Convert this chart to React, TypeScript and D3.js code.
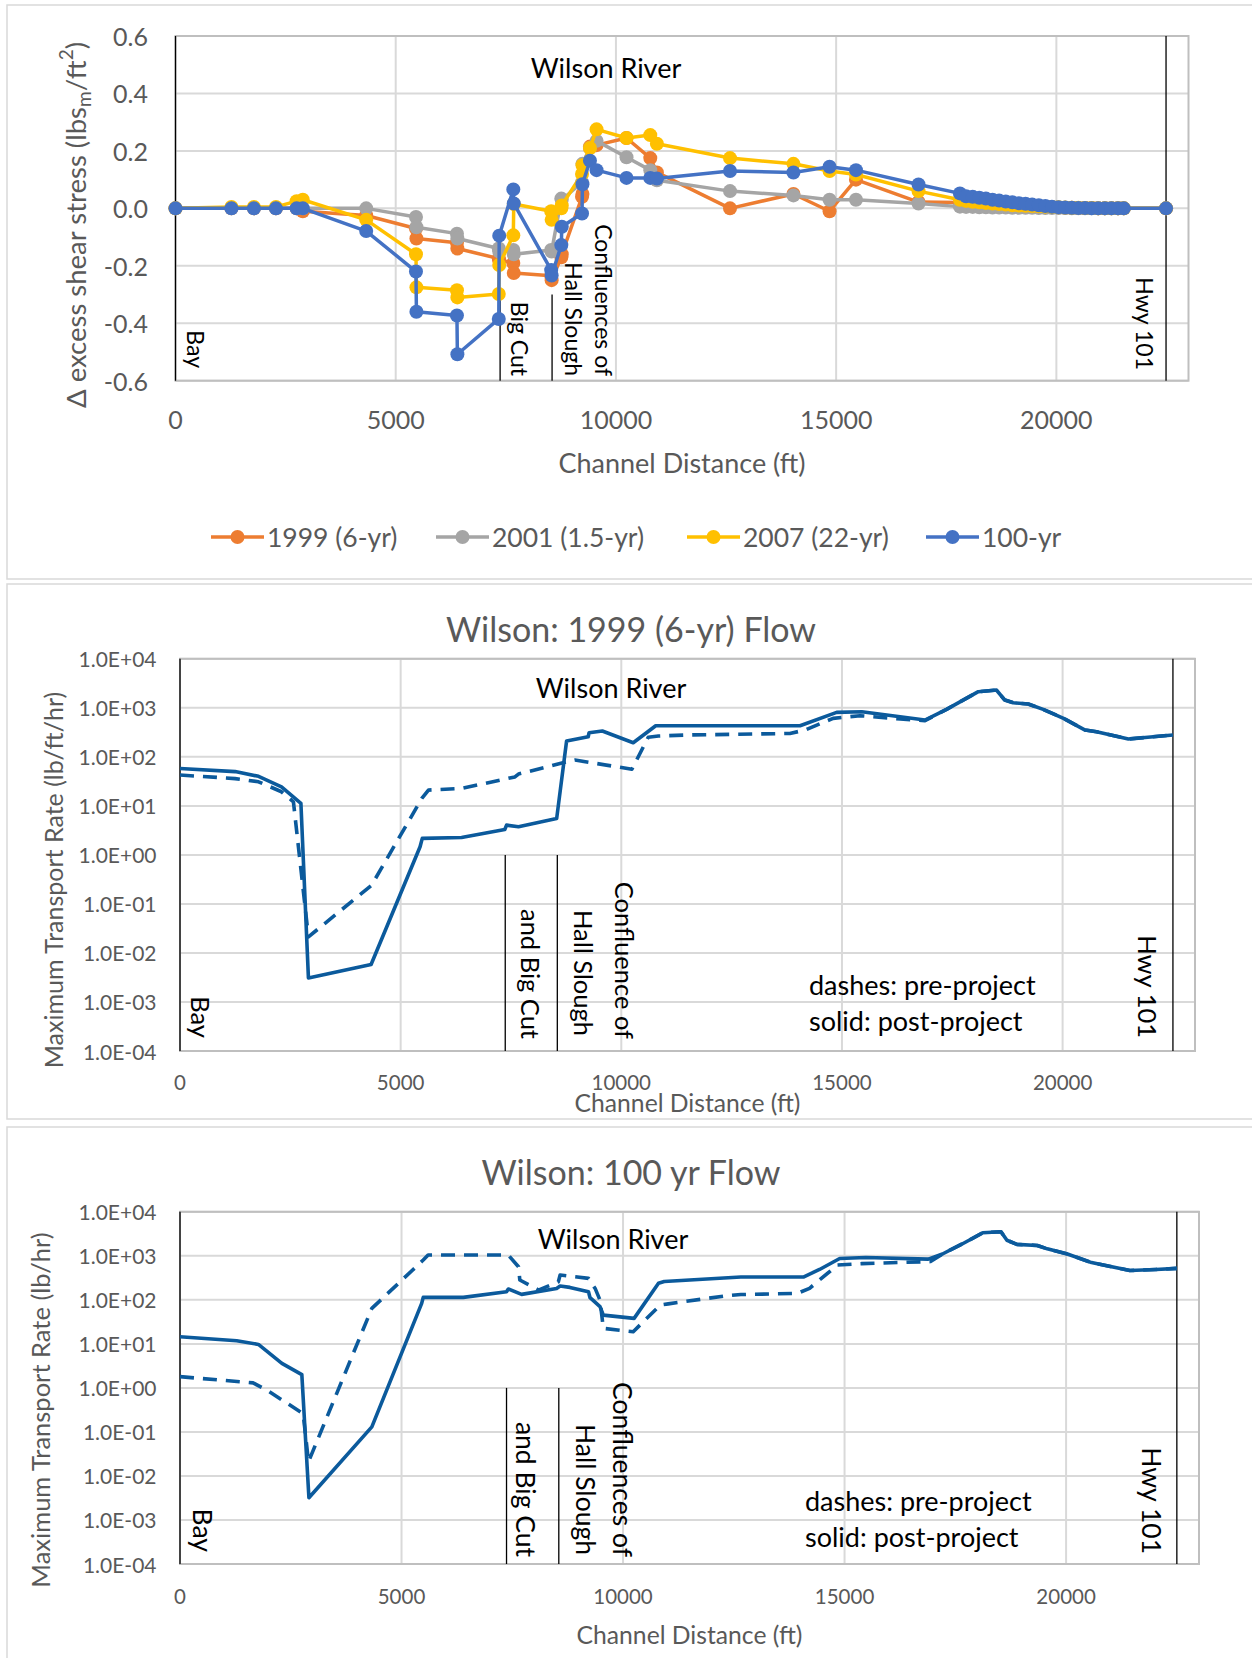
import React from "react";
import * as d3 from "d3";

const FONT = "Lato, 'DejaVu Sans', sans-serif";
const GRID = "#d9d9d9";
const FRAME = "#d9d9d9";
const PLOT_BORDER = "#bfbfbf";
const AXIS_TEXT = "#595959";
const RATE_COLOR = "#0b5a9c";

// ---------- Δ excess shear stress along the channel ----------
const stations = [
  0, 1270, 1780, 2280, 2750, 2890, 4330, 5460, 5470, 6390,
  6400, 7340, 7350, 7670, 7680, 8530, 8540, 8760, 8770, 9230,
  9240, 9410, 9560, 10240, 10780, 10930, 12590, 14030, 14850, 15450,
  16870, 17810, 17950, 18100, 18250, 18400, 18550, 18700, 18850, 19000,
  19150, 19300, 19450, 19600, 19750, 19900, 20050, 20200, 20350, 20500,
  20650, 20800, 20950, 21100, 21250, 21400, 21530, 22490,
];
const shear1999 = [
  0, 0, 0, 0, 0, -0.01, -0.025, -0.07, -0.105, -0.12,
  -0.14, -0.175, -0.18, -0.19, -0.225, -0.235, -0.25, -0.17, -0.16, 0.04,
  0.05, 0.215, 0.22, 0.245, 0.175, 0.125, 0.0, 0.05, -0.01, 0.1,
  0.022, 0.02, 0.018, 0.016, 0.015, 0.013, 0.012, 0.011, 0.01, 0.009,
  0.008, 0.007, 0.006, 0.005, 0.004, 0.004, 0.003, 0.002, 0.002, 0.001,
  0.001, 0.001, 0, 0, 0, 0, 0, 0,
];
const shear2001 = [
  0, 0, 0, 0, 0, 0, 0, -0.03, -0.066, -0.088,
  -0.105, -0.14, -0.15, -0.145, -0.16, -0.145, -0.15, 0.034, 0.03, 0.09,
  0.155, 0.21, 0.235, 0.178, 0.133, 0.098, 0.06, 0.045, 0.03, 0.03,
  0.017, 0.006, 0.005, 0.005, 0.004, 0.004, 0.003, 0.003, 0.003, 0.002,
  0.002, 0.002, 0.002, 0.001, 0.001, 0.001, 0.001, 0.001, 0, 0,
  0, 0, 0, 0, 0, 0, 0, 0,
];
const shear2007 = [
  0, 0.005, 0.005, 0.005, 0.025, 0.03, -0.04, -0.16, -0.275, -0.285,
  -0.31, -0.298, -0.197, -0.094, 0.015, -0.01, -0.04, 0.0, 0.01, 0.12,
  0.15, 0.21, 0.275, 0.245, 0.255, 0.225, 0.175, 0.155, 0.13, 0.118,
  0.06, 0.03, 0.026, 0.023, 0.021, 0.019, 0.017, 0.015, 0.013, 0.011,
  0.01, 0.009, 0.008, 0.007, 0.006, 0.005, 0.004, 0.003, 0.002, 0.002,
  0.001, 0.001, 0, 0, 0, 0, 0, 0,
];
const shear100yr = [
  0, 0, 0, 0, 0, 0, -0.079, -0.22, -0.36, -0.373,
  -0.508, -0.385, -0.095, 0.066, 0.017, -0.215, -0.234, -0.128, -0.064, -0.018,
  0.084, 0.166, 0.133, 0.106, 0.106, 0.104, 0.13, 0.125, 0.145, 0.133,
  0.083, 0.052, 0.042, 0.04, 0.037, 0.034, 0.03, 0.027, 0.024, 0.021,
  0.018, 0.016, 0.013, 0.011, 0.008, 0.006, 0.004, 0.003, 0.002, 0.001,
  0.001, 0.0005, 0, 0, 0, 0, 0, 0,
];
const shearNames = ["1999 (6-yr)", "2001 (1.5-yr)", "2007 (22-yr)", "100-yr"];
const shearColors = ["#ED7D31", "#A5A5A5", "#FFC000", "#4472C4"];
const shearValues = [shear1999, shear2001, shear2007, shear100yr];

// ---------- Maximum transport rate, 1999 (6-yr) flow ----------
const tail1999Dist = [17370, 18090, 18500, 18690, 18880, 19220, 19560, 20020, 20510, 20770, 21490, 22500];
const tail1999Rate = [930, 2134, 2308, 1442, 1273, 1195, 930, 610, 352, 326, 231, 279];
const post1999Dist = [
  0, 1250, 1780, 2300, 2740, 2910, 4330, 5440, 5490, 6380,
  7360, 7400, 7670, 8535, 8760, 9250, 9270, 9570, 10270, 10780,
  14050, 14880, 15450, 16880,
];
const post1999Rate = [
  58, 50, 40, 24.5, 11.2, 0.0031, 0.0058, 1.47, 2.17, 2.27,
  3.3, 4.05, 3.75, 5.5, 210, 257, 310, 336, 194, 432,
  432, 807, 834, 564,
];
const pre1999Dist = [
  0, 1250, 1780, 2300, 2570, 2910, 4340, 5480, 5630, 6380,
  7590, 7670, 8760, 8950, 10240, 10610, 10840, 11480, 13820, 14160,
  14430, 14800, 15410, 16320, 16880,
];
const pre1999Rate = [
  42.6, 36, 31, 19.4, 12.1, 0.0213, 0.24, 14.2, 21, 22.7,
  39, 44.6, 79, 86, 56, 251, 266, 279, 300, 352,
  445, 610, 691, 591, 546,
];

// ---------- Maximum transport rate, 100 yr flow ----------
const tail100Dist = [17210, 17665, 18120, 18530, 18665, 18890, 19350, 19575, 20030, 20575, 20760, 21440, 22030, 22500];
const tail100Rate = [1099, 1883, 3347, 3530, 2256, 1820, 1722, 1439, 1099, 702, 642, 464, 490, 518];
const post100Dist = [
  0, 1280, 1770, 2300, 2750, 2910, 4330, 5455, 5490, 6395,
  7370, 7410, 7710, 8500, 8580, 8800, 9220, 9255, 9480, 9555,
  10250, 10800, 10930, 12660, 14070, 14435, 14890, 15480, 16890,
];
const post100Rate = [
  14.5, 11.8, 9.7, 3.6, 2.0, 0.0032, 0.13, 83, 114, 114,
  153, 176, 133, 182, 206, 192, 153, 112, 70, 45,
  38, 239, 262, 330, 330, 490, 871, 918, 840,
];
const pre100Dist = [
  0, 1650, 1960, 2780, 2900, 4330, 5490, 5600, 7410, 7640,
  7670, 8090, 8540, 8580, 9220, 9370, 9480, 9555, 10230, 10500,
  10840, 11020, 12300, 12660, 13930, 14210, 14840, 15390, 16940,
];
const pre100Rate = [
  1.8, 1.3, 0.89, 0.26, 0.021, 64, 802, 1043, 1043, 566,
  282, 167, 258, 366, 308, 182, 99, 22.5, 18.9, 35,
  76, 81, 123, 132, 140, 183, 617, 665, 741,
];

// ---------- axes and landmarks ----------
const distanceTicks = [0, 5000, 10000, 15000, 20000];
const shearTicks = [-0.6, -0.4, -0.2, 0, 0.2, 0.4, 0.6];
const rateTicks = [1e-4, 1e-3, 1e-2, 1e-1, 1, 1e1, 1e2, 1e3, 1e4];
const bigCutFt = 7370;
const hallSloughFt = 8550;
const hwy101Ft = 22500;

function fmtRate(v: number) {
  const e = Math.round(Math.log10(v));
  return `1.0E${e < 0 ? "-" : "+"}${String(Math.abs(e)).padStart(2, "0")}`;
}

type Pt = [number, number];
const zipPts = (xs: number[], ys: number[]): Pt[] => xs.map((d, i) => [d, ys[i]]);

function VLabel({ x, yEnd, size, children }: { x: number; yEnd: number; size: number; children: React.ReactNode }) {
  return (
    <text
      transform={`translate(${x},${yEnd}) rotate(90)`}
      textAnchor="end"
      dominantBaseline="central"
      fontSize={size}
      fill="#000"
    >
      {children}
    </text>
  );
}

function ShearPanel() {
  const left = 175.5, right = 1188.5, top = 36, bottom = 380.7;
  const x = d3.scaleLinear().domain([0, 23000]).range([left, right]);
  const y = d3.scaleLinear().domain([-0.6, 0.6]).range([bottom, top]);
  const line = d3.line<Pt>().x((d) => x(d[0])).y((d) => y(d[1]));
  const legendX = [211, 436, 687, 926];
  return (
    <g>
      <rect x={7} y={5} width={1260} height={574} fill="#fff" stroke={FRAME} strokeWidth={1.5} />
      {shearTicks.map((t) => (
        <line key={t} x1={left} x2={right} y1={y(t)} y2={y(t)} stroke={GRID} strokeWidth={2} />
      ))}
      {distanceTicks.slice(1).map((t) => (
        <line key={t} x1={x(t)} x2={x(t)} y1={top} y2={bottom} stroke={GRID} strokeWidth={2} />
      ))}
      <rect x={left} y={top} width={right - left} height={bottom - top} fill="none" stroke={PLOT_BORDER} strokeWidth={2} />
      {/* landmark lines */}
      <line x1={x(0)} x2={x(0)} y1={top} y2={bottom} stroke="#000" strokeWidth={1.3} />
      <line x1={x(22490)} x2={x(22490)} y1={top} y2={bottom} stroke="#000" strokeWidth={1.3} />
      <line x1={x(bigCutFt)} x2={x(bigCutFt)} y1={y(-0.3)} y2={bottom} stroke="#000" strokeWidth={1.3} />
      <line x1={x(hallSloughFt)} x2={x(hallSloughFt)} y1={y(-0.3)} y2={bottom} stroke="#000" strokeWidth={1.3} />

      {shearValues.map((vals, si) => {
        const pts = zipPts(stations, vals);
        return (
          <g key={si}>
            <path d={line(pts) || ""} fill="none" stroke={shearColors[si]} strokeWidth={3.5} strokeLinejoin="round" />
            {pts.map((p, i) => (
              <circle key={i} cx={x(p[0])} cy={y(p[1])} r={7} fill={shearColors[si]} />
            ))}
          </g>
        );
      })}

      {/* axis labels */}
      {shearTicks.map((t) => (
        <text key={t} x={148} y={y(t)} textAnchor="end" dominantBaseline="central" fontSize={25} fill={AXIS_TEXT}>
          {t.toFixed(1)}
        </text>
      ))}
      {distanceTicks.map((t) => (
        <text key={t} x={x(t)} y={419} textAnchor="middle" dominantBaseline="central" fontSize={25} fill={AXIS_TEXT}>
          {t}
        </text>
      ))}
      <text x={(left + right) / 2} y={462} textAnchor="middle" dominantBaseline="central" fontSize={27} fill={AXIS_TEXT}>
        Channel Distance (ft)
      </text>
      <text transform="translate(75,225) rotate(-90)" textAnchor="middle" dominantBaseline="central" fontSize={27.5} fill={AXIS_TEXT}>
        Δ excess shear stress (lbs
        <tspan dy={8} fontSize={19}>m</tspan>
        <tspan dy={-8}>/ft</tspan>
        <tspan dy={-10} fontSize={19}>2</tspan>
        <tspan dy={10}>)</tspan>
      </text>

      {/* annotations */}
      <text x={606} y={67} textAnchor="middle" dominantBaseline="central" fontSize={27} fill="#000">
        Wilson River
      </text>
      <VLabel x={196} yEnd={368} size={23}>Bay</VLabel>
      <VLabel x={520} yEnd={376} size={23}>Big Cut</VLabel>
      <VLabel x={574} yEnd={376} size={23}>Hall Slough</VLabel>
      <VLabel x={604} yEnd={376} size={23}>Confluences of</VLabel>
      <VLabel x={1145} yEnd={370} size={23}>Hwy 101</VLabel>

      {/* legend */}
      {shearNames.map((n, i) => (
        <g key={n}>
          <line x1={legendX[i]} x2={legendX[i] + 53} y1={537} y2={537} stroke={shearColors[i]} strokeWidth={3.5} />
          <circle cx={legendX[i] + 26.5} cy={537} r={7} fill={shearColors[i]} />
          <text x={legendX[i] + 56} y={537} dominantBaseline="central" fontSize={26.5} fill={AXIS_TEXT}>
            {n}
          </text>
        </g>
      ))}
    </g>
  );
}

type RateProps = {
  frameTop: number;
  frameH: number;
  left: number;
  right: number;
  top: number;
  bottom: number;
  title: string;
  titleY: number;
  yTitle: string;
  yTitleX: number;
  yTitleY: number;
  yTitleSize: number;
  tickY: number;
  xTitleY: number;
  riverY: number;
  riverX: number;
  noteX: number;
  noteY1: number;
  noteY2: number;
  labelSize: number;
  pre: Pt[];
  post: Pt[];
  labels: { text: string; x: number; yEnd: number }[];
};

function RatePanel(p: RateProps) {
  const x = d3.scaleLinear().domain([0, 23000]).range([p.left, p.right]);
  const y = d3.scaleLog().domain([1e-4, 1e4]).range([p.bottom, p.top]);
  const line = d3.line<Pt>().x((d) => x(d[0])).y((d) => y(d[1]));
  return (
    <g>
      <rect x={7} y={p.frameTop} width={1260} height={p.frameH} fill="#fff" stroke={FRAME} strokeWidth={1.5} />
      <text x={631} y={p.titleY} textAnchor="middle" dominantBaseline="central" fontSize={34} fill={AXIS_TEXT}>
        {p.title}
      </text>
      {rateTicks.map((t) => (
        <line key={t} x1={p.left} x2={p.right} y1={y(t)} y2={y(t)} stroke={GRID} strokeWidth={2} />
      ))}
      {distanceTicks.slice(1).map((t) => (
        <line key={t} x1={x(t)} x2={x(t)} y1={p.top} y2={p.bottom} stroke={GRID} strokeWidth={2} />
      ))}
      <rect x={p.left} y={p.top} width={p.right - p.left} height={p.bottom - p.top} fill="none" stroke={PLOT_BORDER} strokeWidth={2} />
      <line x1={x(0)} x2={x(0)} y1={p.top} y2={p.bottom} stroke="#000" strokeWidth={1.3} />
      <line x1={x(hwy101Ft)} x2={x(hwy101Ft)} y1={p.top} y2={p.bottom} stroke="#000" strokeWidth={1.3} />
      <line x1={x(bigCutFt)} x2={x(bigCutFt)} y1={y(1)} y2={p.bottom} stroke="#000" strokeWidth={1.3} />
      <line x1={x(hallSloughFt)} x2={x(hallSloughFt)} y1={y(1)} y2={p.bottom} stroke="#000" strokeWidth={1.3} />

      <path d={line(p.pre) || ""} fill="none" stroke={RATE_COLOR} strokeWidth={3.6} strokeDasharray="14 9" strokeLinejoin="round" />
      <path d={line(p.post) || ""} fill="none" stroke={RATE_COLOR} strokeWidth={3.6} strokeLinejoin="round" />

      {rateTicks.map((t) => (
        <text key={t} x={156.5} y={y(t)} textAnchor="end" dominantBaseline="central" fontSize={21} fill={AXIS_TEXT}>
          {fmtRate(t)}
        </text>
      ))}
      {distanceTicks.map((t) => (
        <text key={t} x={x(t)} y={p.tickY} textAnchor="middle" dominantBaseline="central" fontSize={20.5} fill={AXIS_TEXT}>
          {t}
        </text>
      ))}
      <text x={(p.left + p.right) / 2} y={p.xTitleY} textAnchor="middle" dominantBaseline="central" fontSize={24.7} fill={AXIS_TEXT}>
        Channel Distance (ft)
      </text>
      <text
        transform={`translate(${p.yTitleX},${p.yTitleY}) rotate(-90)`}
        textAnchor="middle"
        dominantBaseline="central"
        fontSize={p.yTitleSize}
        fill={AXIS_TEXT}
      >
        {p.yTitle}
      </text>

      <text x={p.riverX} y={p.riverY} textAnchor="middle" dominantBaseline="central" fontSize={27} fill="#000">
        Wilson River
      </text>
      <text x={p.noteX} y={p.noteY1} dominantBaseline="central" fontSize={27} fill="#000">
        dashes: pre-project
      </text>
      <text x={p.noteX} y={p.noteY2} dominantBaseline="central" fontSize={27} fill="#000">
        solid: post-project
      </text>
      {p.labels.map((l) => (
        <VLabel key={l.text} x={l.x} yEnd={l.yEnd} size={p.labelSize}>
          {l.text}
        </VLabel>
      ))}
    </g>
  );
}

export default function App() {
  const pre1999 = zipPts(pre1999Dist.concat(tail1999Dist), pre1999Rate.concat(tail1999Rate));
  const post1999 = zipPts(post1999Dist.concat(tail1999Dist), post1999Rate.concat(tail1999Rate));
  const pre100 = zipPts(pre100Dist.concat(tail100Dist), pre100Rate.concat(tail100Rate));
  const post100 = zipPts(post100Dist.concat(tail100Dist), post100Rate.concat(tail100Rate));
  return (
    <svg
      width={1252}
      height={1658}
      style={{ position: "absolute", left: 0, top: 0, background: "#fff" }}
      fontFamily={FONT}
    >
      <rect x={0} y={0} width={1252} height={1658} fill="#fff" />
      <ShearPanel />
      <RatePanel
        frameTop={584}
        frameH={535}
        left={180}
        right={1195}
        top={658.8}
        bottom={1051}
        title="Wilson: 1999 (6-yr) Flow"
        titleY={628}
        yTitle="Maximum Transport Rate (lb/ft/hr)"
        yTitleX={53}
        yTitleY={880}
        yTitleSize={25}
        tickY={1082}
        xTitleY={1102}
        riverX={611}
        riverY={687}
        noteX={809}
        noteY1={984}
        noteY2={1020}
        labelSize={25.5}
        pre={pre1999}
        post={post1999}
        labels={[
          { text: "Bay", x: 201, yEnd: 1038 },
          { text: "and Big Cut", x: 531, yEnd: 1039 },
          { text: "Hall Slough", x: 584, yEnd: 1036 },
          { text: "Confluence of", x: 625, yEnd: 1039 },
          { text: "Hwy 101", x: 1148, yEnd: 1038 },
        ]}
      />
      <RatePanel
        frameTop={1127}
        frameH={540}
        left={180}
        right={1199}
        top={1211.8}
        bottom={1564}
        title="Wilson: 100 yr Flow"
        titleY={1171.6}
        yTitle="Maximum Transport Rate (lb/hr)"
        yTitleX={40}
        yTitleY={1410}
        yTitleSize={25.5}
        tickY={1595.6}
        xTitleY={1634.7}
        riverX={613}
        riverY={1238}
        noteX={805}
        noteY1={1500.5}
        noteY2={1536.4}
        labelSize={26.5}
        pre={pre100}
        post={post100}
        labels={[
          { text: "Bay", x: 203, yEnd: 1552 },
          { text: "and Big Cut", x: 526, yEnd: 1557 },
          { text: "Hall Slough", x: 586, yEnd: 1555 },
          { text: "Confluences of", x: 623, yEnd: 1557 },
          { text: "Hwy 101", x: 1151.5, yEnd: 1554 },
        ]}
      />
    </svg>
  );
}
